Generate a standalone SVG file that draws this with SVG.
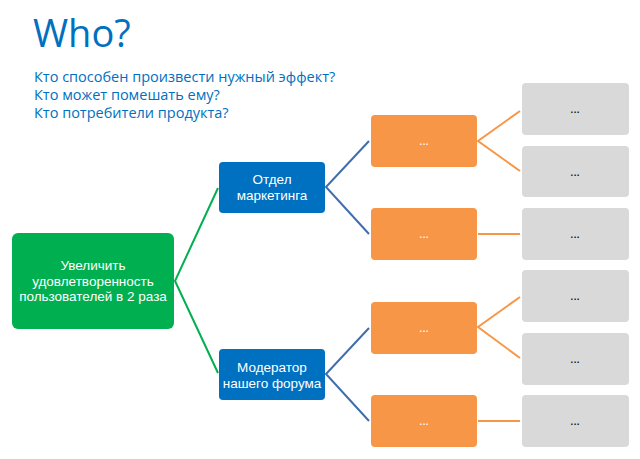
<svg xmlns="http://www.w3.org/2000/svg" width="640" height="459" viewBox="0 0 640 459">
<style>
.t{font-family:"Open Sans","Noto Sans","DejaVu Sans",sans-serif;}
.s{font-family:"Liberation Sans","Arial",sans-serif;}
.h{fill:#0070C0;}
.w{fill:#fff;font-size:13.5px;text-anchor:middle;}
.d{font-size:12px;text-anchor:middle;}
.g{fill:#00B050;}
.b{fill:#0070C0;}
.o{fill:#F79646;}
.y{fill:#D9D9D9;}
.lg{stroke:#00B050;stroke-width:2;fill:none;}
.lb{stroke:#3F6EAE;stroke-width:2;fill:none;}
.lo{stroke:#F79646;stroke-width:2;fill:none;}
</style>
<rect width="640" height="459" fill="#fff"/>
<text class="t h" x="33" y="47" font-size="38">Who?</text>
<text class="t h" font-size="14.5"><tspan x="34" y="82">Кто способен произвести нужный эффект?</tspan><tspan x="34" y="100">Кто может помешать ему?</tspan><tspan x="34" y="118">Кто потребители продукта?</tspan></text>
<g id="connectors">
<polyline class="lg" points="218,188 175,281 218,373"/>
<polyline class="lb" points="369,141 326,187 369,234"/>
<polyline class="lb" points="369,328 326,374 369,421"/>
<polyline class="lo" points="520,111 478,141 520,171"/>
<line class="lo" x1="478" y1="234" x2="520" y2="234"/>
<polyline class="lo" points="520,297 478,327 520,358"/>
<line class="lo" x1="478" y1="421" x2="520" y2="421"/>
</g>
<g id="goal"><rect class="g" x="12" y="233" width="162" height="96" rx="6"/>
<text class="s w"><tspan x="93" y="270">Увеличить</tspan><tspan x="93" y="285.5">удовлетворенность</tspan><tspan x="93" y="301">пользователей в 2 раза</tspan></text></g>
<g id="marketing"><rect class="b" x="219" y="162" width="106" height="51" rx="4"/>
<text class="s w"><tspan x="272" y="184">Отдел</tspan><tspan x="272" y="200">маркетинга</tspan></text></g>
<g id="moderator"><rect class="b" x="219" y="349" width="106" height="51" rx="4"/>
<text class="s w"><tspan x="272" y="372">Модератор</tspan><tspan x="272" y="388">нашего форума</tspan></text></g>
<g id="o1"><rect class="o" x="371" y="115" width="106" height="52" rx="4"/><text class="t d" x="424" y="145" fill="#fff">...</text></g>
<g id="o2"><rect class="o" x="371" y="208" width="106" height="52" rx="4"/><text class="t d" x="424" y="238" fill="#fff">...</text></g>
<g id="o3"><rect class="o" x="371" y="302" width="106" height="52" rx="4"/><text class="t d" x="424" y="332" fill="#fff">...</text></g>
<g id="o4"><rect class="o" x="371" y="395" width="106" height="52" rx="4"/><text class="t d" x="424" y="425" fill="#fff">...</text></g>
<g id="g1"><rect class="y" x="522" y="83" width="107" height="52" rx="4"/><text class="t d" x="575" y="113" fill="#000">...</text></g>
<g id="g2"><rect class="y" x="522" y="146" width="107" height="51" rx="4"/><text class="t d" x="575" y="176" fill="#000">...</text></g>
<g id="g3"><rect class="y" x="522" y="208" width="107" height="52" rx="4"/><text class="t d" x="575" y="238" fill="#000">...</text></g>
<g id="g4"><rect class="y" x="522" y="270" width="107" height="52" rx="4"/><text class="t d" x="575" y="300" fill="#000">...</text></g>
<g id="g5"><rect class="y" x="522" y="333" width="107" height="52" rx="4"/><text class="t d" x="575" y="363" fill="#000">...</text></g>
<g id="g6"><rect class="y" x="522" y="395" width="107" height="52" rx="4"/><text class="t d" x="575" y="425" fill="#000">...</text></g>
</svg>
